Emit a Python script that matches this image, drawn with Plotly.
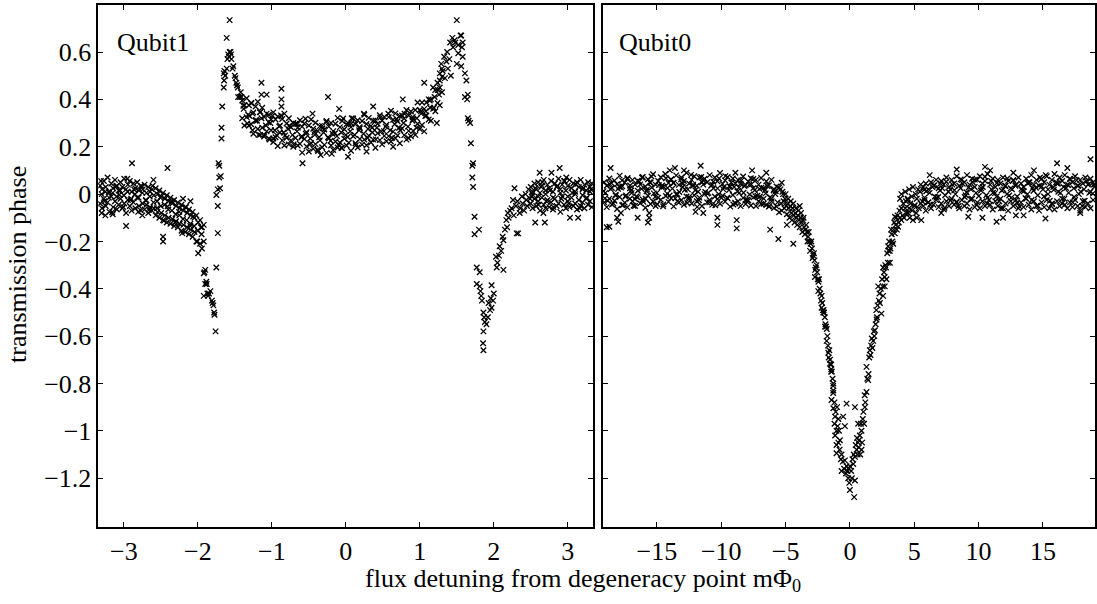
import plotly.graph_objects as go

# ---------------- Qubit1 (left panel) ----------------
q1_tailL_flux = [-3.32,-3.295,-3.27,-3.245,-3.22,-3.195,-3.17,-3.145,-3.12,-3.095,-3.07,-3.045,-3.02,-2.995,-2.97,-2.945,-2.92,-2.895,-2.87,-2.845,-2.82,-2.795,-2.77,-2.745,-2.72,-2.695,-2.67,-2.645,-2.62,-2.595,-2.57,-2.545,-2.52,-2.495,-2.47,-2.445,-2.42,-2.395,-2.37,-2.345,-2.32,-2.295,-2.27,-2.245,-2.22,-2.195,-2.17,-2.145,-2.12,-2.095,-2.07,-2.045,-2.02,-1.995,-1.97,-1.945,-1.92]
q1_tailL_upper = [.035,.02,.055,.03,.07,.01,.045,.025,.06,.035,.015,.05,.03,.065,.02,.04,.055,.01,.045,.025,.05,.015,.035,.02,.04,.005,.03,.01,.02,-.005,.025,0,.015,-.01,.005,-.02,-.005,-.03,-.015,-.04,-.025,-.05,-.035,-.06,-.045,-.07,-.055,-.08,-.065,-.09,-.075,-.1,-.09,-.12,-.11,-.14,-.13]
q1_tailL_lower = [-.04,-.06,-.02,-.05,-.035,-.075,-.01,-.055,-.03,-.065,-.045,-.02,-.06,-.04,-.08,-.025,-.05,-.07,-.035,-.06,-.015,-.05,-.07,-.04,-.065,-.045,-.08,-.055,-.07,-.06,-.09,-.075,-.1,-.08,-.11,-.09,-.12,-.1,-.125,-.105,-.135,-.115,-.14,-.125,-.155,-.13,-.16,-.14,-.17,-.15,-.18,-.16,-.2,-.25,-.21,-.23,-.2]
q1_tailL_fill_flux = [-3.31,-3.262,-3.205,-3.158,-3.104,-3.061,-3.009,-2.953,-2.911,-2.858,-2.806,-2.761,-2.703,-2.658,-2.611,-2.553,-2.508,-2.456,-2.409,-2.352,-2.307,-2.253,-2.211,-2.158,-2.102,-2.063,-2.008,-1.958]
q1_tailL_fill = [.055,-.03,.009,-.077,.032,-.003,-.054,.065,-.025,.018,-.075,.032,-.027,-.066,.035,-.06,-.015,-.112,-.052,-.03,-.12,-.075,-.165,-.055,-.135,-.095,-.2,-.14]
q1_tailL_extra = [(-3.3,0),(-3.25,.01),(-3.2,-.015),(-3.15,.005),(-3.1,-.01),(-3.05,.015),(-3.0,-.005),(-2.95,.01),(-2.9,-.02),(-2.85,0),(-2.8,-.015),(-2.75,.005),(-2.7,-.025),(-2.65,-.01),(-2.6,-.035),(-2.55,-.03),(-2.5,-.05),(-2.45,-.045),(-2.4,-.065),(-2.35,-.07),(-2.3,-.085),(-2.25,-.09),(-2.2,-.105),(-2.15,-.11),(-2.1,-.125),(-2.05,-.135),(-2.0,-.155),(-1.95,-.17),
                  (-2.89,.13),(-2.41,.11),(-2.47,-.18),(-2.47,-.2),(-2.97,-.135),(-3.3,-.08),(-3.25,-.09),(-2.2,-.02),(-2.1,-.03),(-3.15,-.085),(-2.75,-.09),(-2.6,.06)]
q1_edgeL = [(-1.92,-.335),(-1.91,-.33),(-1.90,-.32),(-1.90,-.38),(-1.88,-.38),(-1.885,-.37),(-1.92,-.43),(-1.87,-.42),(-1.85,-.42),(-1.86,-.43),(-1.83,-.41),(-1.80,-.46),(-1.81,-.45),(-1.79,-.47),(-1.775,-.51),(-1.78,-.50),(-1.76,-.58),
            (-1.75,-.31),(-1.73,-.165),(-1.73,-.05),(-1.75,-.004),(-1.73,.02),(-1.70,.025),(-1.71,.07),(-1.69,.076),(-1.72,.13),(-1.71,.12),(-1.68,.235),(-1.68,.28),(-1.67,.37),
            (-1.65,.45),(-1.645,.48),(-1.65,.51),(-1.64,.52),(-1.61,.53),(-1.63,.50),(-1.59,.59),(-1.58,.58),(-1.57,.60),(-1.56,.60),(-1.60,.57),(-1.61,.66),(-1.57,.735),
            (-1.545,.57),(-1.55,.59),(-1.52,.54),(-1.53,.53),(-1.50,.50),(-1.49,.49),(-1.48,.47),(-1.46,.45),(-1.47,.46),(-1.455,.41),(-1.43,.41),(-1.41,.41),(-1.42,.43)]
q1_plateau_flux = [-1.40,-1.37,-1.34,-1.31,-1.28,-1.25,-1.22,-1.19,-1.16,-1.13,-1.10,-1.07,-1.04,-1.01,-0.98,-0.95,-0.92,-0.89,-0.86,-0.83,-0.80,-0.77,-0.74,-0.71,-0.68,-0.65,-0.62,-0.59,-0.56,-0.53,-0.50,-0.47,-0.44,-0.41,-0.38,-0.35,-0.32,-0.29,-0.26,-0.23,-0.20,-0.17,-0.14,-0.11,-0.08,-0.05,-0.02,0.01,0.04,0.07,0.10,0.13,0.16,0.19,0.22,0.25,0.28,0.31,0.34,0.37,0.40,0.43,0.46,0.49,0.52,0.55,0.58,0.61,0.64,0.67,0.70,0.73,0.76,0.79,0.82,0.85,0.88,0.91,0.94,0.97,1.00,1.03,1.06,1.09,1.12,1.15,1.18,1.21,1.24,1.27,1.30]
q1_plateau_upper = [.395,.375,.405,.375,.385,.345,.37,.39,.345,.365,.325,.34,
                    .335,.315,.345,.315,.328,.29,.317,.34,.298,.32,.282,.30,
                    .297,.28,.312,.285,.298,.261,.29,.315,.276,.301,.267,.287,
                    .288,.273,.309,.285,.30,.266,.297,.322,.283,.309,.274,.295,
                    .297,.283,.319,.295,.312,.278,.309,.335,.296,.322,.288,.31,
                    .311,.297,.333,.31,.326,.293,.325,.352,.314,.341,.308,.33,
                    .332,.319,.355,.332,.349,.317,.355,.387,.355,.387,.36,.387,
                    .40,.40,.45,.44,.47,.45,.495]
q1_plateau_lower = [.32,.29,.325,.29,.295,.255,.31,.275,.25,.28,.25,.265,
                    .235,.27,.235,.24,.203,.26,.227,.205,.238,.21,.227,.20,
                    .237,.205,.212,.175,.233,.201,.18,.215,.191,.211,.187,.227,
                    .198,.208,.174,.235,.205,.186,.222,.197,.218,.194,.234,.205,
                    .217,.183,.244,.215,.197,.233,.209,.23,.206,.247,.218,.23,
                    .196,.257,.228,.21,.246,.223,.245,.222,.264,.236,.248,.215,
                    .277,.249,.23,.267,.244,.267,.25,.297,.275,.292,.265,.332,
                    .315,.31,.36,.35,.385,.375,.43]
q1_plateau_mid_flux = [-1.38,-1.32,-1.26,-1.20,-1.14,-1.08,-1.02,-0.96,-0.90,-0.84,-0.78,-0.72,-0.66,-0.60,-0.54,-0.48,-0.42,-0.36,-0.30,-0.24,-0.18,-0.12,-0.06,0.0,0.06,0.12,0.18,0.24,0.30,0.36,0.42,0.48,0.54,0.60,0.66,0.72,0.78,0.84,0.90,0.96,1.02,1.08,1.14,1.20,1.26]
q1_plateau_mid = [.36,.335,.34,.31,.32,.29,.30,.27,.285,.26,.275,.25,.265,.24,.255,.235,.25,.24,.26,.24,.255,.245,.26,.25,.265,.25,.27,.255,.275,.26,.28,.265,.285,.27,.295,.28,.30,.285,.31,.32,.34,.35,.365,.41,.42]
q1_plateau_fill_flux = [-1.385,-1.33,-1.275,-1.215,-1.155,-1.105,-1.045,-0.99,-0.935,-0.875,-0.82,-0.765,-0.705,-0.655,-0.595,-0.545,-0.485,-0.425,-0.375,-0.315,-0.265,-0.205,-0.145,-0.095,-0.035,0.025,0.075,0.135,0.185,0.245,0.295,0.355,0.405,0.465,0.515,0.575,0.625,0.685,0.735,0.795,0.845,0.905,0.955,1.015,1.075,1.135,1.19,1.245]
q1_plateau_fill = [.373,.298,.384,.313,.348,.243,.304,.331,.249,.332,.248,.289,.21,.296,.245,.318,.21,.261,.182,.278,.304,.225,.257,.207,.319,.241,.298,.206,.283,.34,.237,.28,.231,.323,.266,.339,.238,.317,.27,.339,.237,.326,.28,.35,.33,.395,.365,.44]
q1_plateau_extra = [(-1.14,.47),(-1.14,.42),(-1.07,.42),(-0.87,.445),(-0.87,.40),(-0.87,.37),(-1.18,.25),(-0.24,.41),(-0.45,.34),(-0.585,.13),(-1.03,.23),(-0.98,.22),
                    (-0.34,.165),(-0.19,.17),(0.03,.158),(-0.06,.196),(-0.09,.36),(0.08,.32),(-1.26,.27),(-1.30,.33),(0.28,.18),(0.64,.20),(0.37,.37),(0.77,.40),(1.06,.47),(1.23,.30)]
q1_peakR = [(1.27,.51),(1.31,.52),(1.36,.56),(1.40,.57),(1.45,.62),(1.47,.65),(1.50,.735),(1.55,.67),(1.52,.595),(1.27,.48),(1.34,.49),(1.38,.53),(1.42,.50),(1.50,.55),(1.29,.55),
            (1.30,.53),(1.33,.58),(1.37,.60),(1.41,.64),(1.44,.66),(1.48,.64),(1.52,.63)]
q1_edgeR = [(1.56,.67),(1.58,.64),(1.58,.58),(1.56,.54),(1.57,.62),(1.61,.51),(1.63,.48),(1.61,.41),(1.65,.42),(1.64,.40),(1.65,.32),(1.68,.30),(1.66,.31),(1.69,.215),
            (1.72,.13),(1.71,.12),(1.71,.07),(1.72,.03),(1.74,-.096),(1.74,-.17),(1.80,-.15),(1.77,-.31),(1.81,-.33),(1.77,-.38),(1.81,-.39),(1.83,-.43),(1.86,-.50),
            (1.88,-.54),(1.86,-.58),(1.855,-.63),(1.86,-.66),(1.84,-.45),(1.87,-.52),(1.82,-.41),
            (1.90,-.55),(1.92,-.52),(1.95,-.49),(1.97,-.48),(1.99,-.45),(1.97,-.385),(2.00,-.42),(1.93,-.46),(1.96,-.44),(2.04,-.31),(2.03,-.265),(2.07,-.26),
            (2.08,-.22),(2.13,-.32),(2.13,-.195),(2.15,-.15),(2.17,-.11),(2.19,-.08),(2.22,-.07),(2.26,-.025),(2.28,.025),(2.33,-.166),(2.31,-.166),(2.35,-.08),
            (2.39,-.04),(2.44,-.025),(2.47,.02),(2.05,-.29),(2.10,-.24),(2.12,-.18),(2.18,-.14),(2.20,-.10),(2.24,-.06),(2.27,-.09),(2.30,-.05),(2.32,-.03),
            (2.36,-.06),(2.38,-.01),(2.41,-.07),(2.43,0),(2.45,-.05),(2.49,-.02)]
q1_tailR_flux = [2.5,2.525,2.55,2.575,2.6,2.625,2.65,2.675,2.7,2.725,2.75,2.775,2.8,2.825,2.85,2.875,2.9,2.925,2.95,2.975,3.0,3.025,3.05,3.075,3.1,3.125,3.15,3.175,3.2,3.225,3.25,3.275,3.3,3.325]
q1_tailR_upper = [.03,.01,.045,.02,.05,.005,.035,.06,.015,.04,.025,.055,.01,.045,.03,.065,.02,.04,.055,.015,.035,.06,.025,.045,.01,.05,.03,.06,.02,.04,.015,.05,.03,.045]
q1_tailR_lower = [-.04,-.06,-.02,-.05,-.03,-.07,-.015,-.045,-.06,-.025,-.055,-.035,-.065,-.02,-.05,-.04,-.075,-.01,-.045,-.06,-.03,-.055,-.015,-.05,-.04,-.065,-.025,-.05,-.035,-.06,-.02,-.045,-.03,-.055]
q1_tailR_fill_flux = [2.512,2.561,2.604,2.657,2.712,2.758,2.806,2.861,2.913,2.957,3.012,3.061,3.108,3.163,3.207,3.258,3.312]
q1_tailR_fill = [-.01,.025,-.045,.05,-.03,.015,-.055,.035,-.02,.055,-.04,.005,.04,-.06,.025,-.015,.02]
q1_tailR_extra = [(2.52,0),(2.6,-.01),(2.7,0),(2.8,-.015),(2.9,.005),(3.0,-.01),(3.1,0),(3.2,-.005),(3.3,.01),
                  (2.62,.09),(2.78,.09),(2.89,.11),(2.64,.03),(2.67,-.08),(2.69,-.12),(3.03,-.10),(3.14,-.10),(2.56,-.12),(2.98,.07)]

# ---------------- Qubit0 (right panel) ----------------
q0_flatL_flux = [-19.1,-18.9,-18.7,-18.5,-18.3,-18.1,-17.9,-17.7,-17.5,-17.3,-17.1,-16.9,-16.7,-16.5,-16.3,-16.1,-15.9,-15.7,-15.5,-15.3,-15.1,-14.9,-14.7,-14.5,-14.3,-14.1,-13.9,-13.7,-13.5,-13.3,-13.1,-12.9,-12.7,-12.5,-12.3,-12.1,-11.9,-11.7,-11.5,-11.3,-11.1,-10.9,-10.7,-10.5,-10.3,-10.1,-9.9,-9.7,-9.5,-9.3,-9.1,-8.9,-8.7,-8.5,-8.3,-8.1,-7.9,-7.7,-7.5,-7.3,-7.1,-6.9,-6.7,-6.5,-6.3,-6.1,-5.9,-5.7,-5.5]
q0_flatL_upper = [.05,.035,.066,.026,.057,.042,.078,.033,.049,.064,.025,.06,.04,.056,.041,.072,.032,.063,.048,.084,.04,.055,.071,.031,.067,.047,.063,.048,.079,.039,
                  .07,.055,.09,.045,.06,.075,.035,.07,.05,.065,.05,.08,.04,.07,.054,.089,.043,.058,.072,.032,.066,.045,.06,.044,.074,.038,.053,.067,.026,.06,
                  .04,.068,.026,.054,.037,.06,.021,.032,.028]
q0_flatL_lower = [-.035,-.055,-.019,-.044,-.028,-.063,-.012,-.047,-.036,-.056,-.02,-.03,-.05,-.014,-.039,-.023,-.058,-.007,-.042,-.031,-.05,-.015,-.024,-.044,-.008,-.033,-.017,-.052,-.001,-.036,
                  -.025,-.045,-.01,-.02,-.04,-.005,-.03,-.015,-.05,0,-.035,-.025,-.045,-.01,-.021,-.041,-.007,-.032,-.018,-.053,-.004,-.04,-.03,-.051,-.016,-.042,-.027,-.048,-.014,-.05,
                  -.03,-.042,-.019,-.046,-.053,-.02,-.059,-.053,-.077]
q0_flatL_mid_flux = [-19.0,-18.6,-18.2,-17.8,-17.4,-17.0,-16.6,-16.2,-15.8,-15.4,-15.0,-14.6,-14.2,-13.8,-13.4,-13.0,-12.6,-12.2,-11.8,-11.4,-11.0,-10.6,-10.2,-9.8,-9.4,-9.0,-8.6,-8.2,-7.8,-7.4,-7.0,-6.6,-6.2,-5.8]
q0_flatL_mid = [.005,.021,-.003,.028,-.006,.015,-.01,.022,.012,.028,.005,.036,.002,.023,0,.03,.02,.035,.01,.04,.005,.025,0,.03,.017,.03,.005,.034,-.002,.016,-.01,.016,-.013,0]
q0_flatL_fillA_flux = [-19.15,-18.82,-18.55,-18.21,-17.93,-17.62,-17.28,-16.97,-16.71,-16.38,-16.05,-15.77,-15.42,-15.13,-14.84,-14.52,-14.18,-13.91,-13.57,-13.26,-12.98,-12.64,-12.35,-12.02,-11.73,-11.41,-11.08,-10.79,-10.46,-10.17,-9.85,-9.54,-9.22,-8.93,-8.61,-8.27,-7.98,-7.66,-7.34,-7.03,-6.72,-6.41,-6.08,-5.77]
q0_flatL_fillA = [.012,-.028,.047,-.006,.031,-.045,.068,.004,-.021,.052,-.033,.019,.074,-.011,.038,-.052,.026,.061,-.018,.009,.044,-.038,.081,.016,-.026,.058,.002,.035,-.047,.066,.021,-.015,.049,-.036,.028,.006,-.024,.041,-.009,.022,-.041,.034,-.03,.012]
q0_flatL_fillB_flux = [-19.05,-18.68,-18.38,-18.02,-17.71,-17.45,-17.09,-16.82,-16.49,-16.16,-15.88,-15.56,-15.24,-14.97,-14.63,-14.35,-14.01,-13.72,-13.41,-13.12,-12.83,-12.51,-12.18,-11.87,-11.56,-11.24,-10.93,-10.62,-10.29,-9.98,-9.68,-9.37,-9.06,-8.74,-8.45,-8.12,-7.82,-7.51,-7.19,-6.88,-6.55,-6.26,-5.93,-5.62]
q0_flatL_fillB = [-.018,.043,-.04,.022,.058,-.01,.036,-.049,.014,.07,-.02,.05,.003,-.043,.029,.085,-.006,.047,-.03,.062,.018,-.012,.04,-.054,.072,.009,-.035,.052,.024,-.016,.076,.033,-.044,.011,.057,-.025,.039,.064,-.007,.027,.003,-.05,.015,-.035]
q0_flatL_extra = [(-18.7,-.138),(-18.0,-.117),(-18.1,-.10),(-16.5,-.10),(-15.7,-.12),(-15.6,-.08),(-15.6,-.10),(-18.9,-.14),(-12.0,-.075),(-11.4,-.08),(-10.3,-.13),(-10.3,-.10),
                  (-8.8,-.145),(-8.8,-.11),(-18.6,.11),(-13.6,.11),(-11.6,.12),(-8.9,.09),(-7.6,.10),(-6.5,.09),(-5.3,.048),(-17.8,-.08),(-14.0,.10),(-12.9,.10)]
q0_dipL = [(-5.4,.02),(-5.3,-.07),(-5.2,0),(-5.1,-.06),(-5.0,0),(-4.9,-.085),(-4.8,-.02),(-4.7,-.1),(-4.6,-.03),(-4.5,-.11),(-4.4,-.04),(-4.3,-.12),(-4.2,-.06),(-4.1,-.13),
           (-4.0,-.07),(-3.9,-.14),(-3.8,-.08),(-3.7,-.16),(-3.6,-.10),(-3.5,-.17),(-3.4,-.13),(-3.3,-.20),(-3.2,-.16),(-3.1,-.24),(-3.0,-.20),(-2.9,-.27),(-2.8,-.25),
           (-2.7,-.32),(-2.6,-.30),(-2.5,-.36),(-2.4,-.36),(-2.3,-.42),(-2.2,-.43),(-2.1,-.49),(-2.0,-.50),(-1.9,-.55),(-1.8,-.57),(-1.7,-.64),(-1.6,-.66),(-1.5,-.72),
           (-1.4,-.75),(-1.3,-.81),
           (-5.35,-.04),(-5.15,-.03),(-4.95,-.05),(-4.75,-.06),(-4.55,-.08),(-4.35,-.09),(-4.15,-.10),(-3.95,-.11),(-3.75,-.12),(-3.55,-.14),(-3.35,-.16),(-3.15,-.20),
           (-2.95,-.23),(-2.75,-.28),(-2.55,-.33),(-2.35,-.40),(-2.15,-.46),(-1.95,-.52),(-1.75,-.60),(-1.55,-.70),(-1.45,-.74),(-1.35,-.78),
           (-5.25,.01),(-5.05,-.02),(-4.85,-.04),(-4.65,-.05),(-4.45,-.06),(-4.25,-.08),(-4.05,-.09),(-3.85,-.10),(-3.65,-.11),(-3.45,-.15),(-3.25,-.18),(-3.05,-.21),
           (-2.85,-.26),(-2.65,-.31),(-2.45,-.37),(-2.25,-.45),(-2.05,-.49),(-1.85,-.56),(-1.65,-.69),(-1.45,-.72),
           (-6.2,-.15),(-5.56,-.19),(-4.4,-.21),(-4.9,-.13),(-3.9,-.05),(-2.72,-.35),(-2.46,-.41),(-2.2,-.48),(-2.07,-.50),(-1.94,-.56),(-1.81,-.62),(-1.68,-.67),(-1.55,-.716),(-1.47,-.75)]
q0_bottom = [(-1.29,-.80),(-1.29,-.83),(-1.43,-.87),(-1.29,-.905),(-1.16,-.94),(-0.9,-.95),(-1.04,-1.0),(-0.78,-1.04),(-1.04,-1.06),(-1.04,-1.095),(-0.65,-1.1),(-0.39,-1.125),
             (-0.26,-1.15),(-0.65,-1.17),(-0.13,-1.2),(0.39,-1.21),(0.0,-1.25),(0.33,-1.28),(-0.26,-.885),(0.39,-.90),(0.64,-.97),(0.9,-1.0),(1.16,-.90),(0.64,-1.05),
             (0.52,-1.08),(0.39,-1.11),(0.26,-1.14),(0.9,-1.08),(0.77,-1.02),(-0.52,-.94),(-0.39,-.98),
             (-1.2,-.88),(-1.1,-.92),(-0.95,-.98),(-1.15,-1.02),(-0.9,-1.05),(-0.8,-1.08),(-0.7,-1.12),(-0.55,-1.13),(-0.45,-1.16),(-0.3,-1.18),(-0.2,-1.17),(-0.1,-1.16),
             (0.0,-1.15),(0.1,-1.17),(0.2,-1.12),(0.3,-1.10),(0.45,-1.06),(0.55,-1.03),(0.7,-1.07),(0.8,-1.10),(0.95,-1.05),(1.0,-.95),(1.05,-.92),(0.85,-.97),(1.1,-.97),
             (-1.0,-.90),(-0.85,-1.0),(0.15,-1.2),(-0.05,-1.22),(0.6,-1.1),(0.7,-1.04),(1.15,-.85),(1.2,-.88),(-1.3,-.84),(-1.2,-.97)]
q0_riseR = [(1.29,-.836),(1.42,-.786),(1.29,-.73),(1.55,-.66),(1.81,-.62),(1.94,-.575),(2.07,-.53),(2.45,-.505),(2.33,-.46),(2.58,-.43),(2.71,-.39),(2.84,-.36),(3.1,-.29),
            (3.1,-.24),(3.36,-.21),(3.49,-.166),(3.74,-.138),(4.0,-.11),(4.52,-.08),(5.04,-.047),(5.8,-.025),(2.2,-.39),(2.58,-.31),(2.97,-.22),(3.2,-.15),(3.5,-.096),(4.5,-.025),
            (1.35,-.78),(1.45,-.76),(1.5,-.69),(1.6,-.68),(1.65,-.64),(1.7,-.61),(1.75,-.65),(1.85,-.58),(1.9,-.60),(2.0,-.55),(2.05,-.49),(2.1,-.52),(2.15,-.47),(2.25,-.45),
            (2.3,-.42),(2.4,-.40),(2.5,-.36),(2.55,-.39),(2.65,-.33),(2.7,-.35),(2.75,-.30),(2.8,-.31),(2.9,-.25),(2.95,-.29),(3.0,-.24),(3.05,-.20),(3.15,-.23),(3.25,-.17),
            (3.3,-.20),(3.4,-.15),(3.45,-.12),(3.55,-.13),(3.6,-.10),(3.65,-.15),(3.7,-.09),(3.8,-.12),(3.85,-.07),(3.9,-.10),(4.0,-.06),(4.1,-.09),(4.15,-.04),(4.2,-.10),
            (4.3,-.06),(4.35,-.03),(4.4,-.08),(4.5,-.02),(4.6,-.06),(4.65,-.10),(4.7,-.04),(4.8,-.01),(4.85,-.07),(4.9,.03),(5.0,-.05),(5.1,0),(5.15,-.08),(5.2,-.02),
            (5.3,.02),(5.35,-.06),(5.45,.01),(5.5,-.04),(4.0,0),(4.3,.01),(4.6,.02),(4.9,-.11),(5.2,-.10),(5.5,.04),(3.9,-.02)]
q0_flatR_flux = [5.7,5.9,6.1,6.3,6.5,6.7,6.9,7.1,7.3,7.5,7.7,7.9,8.1,8.3,8.5,8.7,8.9,9.1,9.3,9.5,9.7,9.9,10.1,10.3,10.5,10.7,10.9,11.1,11.3,11.5,11.7,11.9,12.1,12.3,12.5,12.7,12.9,13.1,13.3,13.5,13.7,13.9,14.1,14.3,14.5,14.7,14.9,15.1,15.3,15.5,15.7,15.9,16.1,16.3,16.5,16.7,16.9,17.1,17.3,17.5,17.7,17.9,18.1,18.3,18.5,18.7,18.9]
q0_flatR_upper = [.03,.045,.02,.05,.035,.06,.025,.055,.04,.07,.03,.06,.045,.075,.035,.06,.05,.08,.04,.065,.03,.06,.075,.045,.055,.085,.04,.065,.03,.06,
                  .045,.07,.035,.055,.025,.06,.04,.07,.045,.03,.065,.05,.08,.04,.06,.035,.065,.05,.075,.04,.06,.085,.045,.07,.055,.08,.04,.065,.05,.075,
                  .035,.06,.045,.07,.04,.065,.05]
q0_flatR_lower = [-.05,-.07,-.035,-.06,-.045,-.025,-.055,-.04,-.065,-.03,-.05,-.02,-.045,-.035,-.06,-.025,-.05,-.04,-.065,-.02,-.055,-.035,-.06,-.03,-.05,-.015,-.045,-.065,-.03,-.05,
                  -.02,-.06,-.04,-.07,-.03,-.05,-.025,-.06,-.035,-.055,-.02,-.045,-.065,-.03,-.05,-.07,-.035,-.055,-.025,-.06,-.04,-.065,-.03,-.05,-.02,-.045,-.06,-.035,-.055,-.025,
                  -.05,-.07,-.03,-.055,-.04,-.06,-.025]
q0_flatR_mid_flux = [5.8,6.2,6.6,7.0,7.4,7.8,8.2,8.6,9.0,9.4,9.8,10.2,10.6,11.0,11.4,11.8,12.2,12.6,13.0,13.4,13.8,14.2,14.6,15.0,15.4,15.8,16.2,16.6,17.0,17.4,17.8,18.2,18.6,19.0]
q0_flatR_mid = [-.015,.005,-.01,.015,-.005,.02,0,.025,-.005,.02,.005,.025,-.005,.02,-.01,.015,0,.02,-.01,.015,0,.025,-.005,.02,0,.03,.01,.03,.005,.025,0,.02,.005,.03]
q0_flatR_fillA_flux = [5.62,5.93,6.24,6.57,6.86,7.18,7.49,7.83,8.12,8.44,8.77,9.06,9.38,9.71,10.02,10.33,10.66,10.97,11.28,11.61,11.92,12.24,12.55,12.87,13.18,13.51,13.82,14.13,14.46,14.77,15.09,15.4,15.72,16.03,16.36,16.67,16.98,17.31,17.62,17.94,18.25,18.57,18.88]
q0_flatR_fillA = [-.03,.012,-.045,.038,-.012,.025,.052,-.027,.016,-.05,.044,.008,-.022,.061,-.008,.03,-.04,.055,.004,-.03,.02,.066,-.015,.035,-.052,.012,.046,-.025,.027,.07,-.01,.02,-.043,.05,.005,-.02,.038,-.035,.058,.01,-.028,.042,.002]
q0_flatR_fillB_flux = [5.78,6.09,6.41,6.72,7.04,7.35,7.66,7.97,8.29,8.6,8.92,9.23,9.55,9.86,10.18,10.49,10.81,11.12,11.44,11.75,12.06,12.38,12.7,13.01,13.33,13.64,13.96,14.27,14.59,14.9,15.22,15.54,15.85,16.17,16.48,16.8,17.12,17.43,17.75,18.06,18.38,18.7,18.98]
q0_flatR_fillB = [.018,-.035,.03,-.015,.045,-.058,.01,.04,-.032,.062,-.012,.028,.05,-.045,.015,.073,-.025,.006,.048,-.06,.034,-.006,.057,-.038,.022,-.017,.05,.014,-.048,.032,.08,-.028,.018,.045,-.04,.026,.063,-.012,.035,-.05,.055,.01,.04]
q0_flatR_extra = [(8.3,.104),(10.5,.115),(10.9,.10),(12.7,.09),(14.3,.10),(16.1,.13),(16.9,.11),(18.7,.147),(9.2,-.096),(10.3,-.10),(11.4,-.117),(11.9,-.10),(12.9,-.09),
                  (15.2,-.103),(17.9,-.08),(7.1,-.08),(5.55,-.11),(13.5,-.09),(6.2,.08)]

# ---------------- axis ticks ----------------
q1_xticks = [-3, -2, -1, 0, 1, 2, 3]
q0_xticks = [-15, -10, -5, 0, 5, 10, 15]
x1_ticktext = ["\u22123", "\u22122", "\u22121", "0", "1", "2", "3"]
x2_ticktext = ["\u221215", "\u221210", "\u22125", "0", "5", "10", "15"]
y_tickvals = [0.6, 0.4, 0.2, 0, -0.2, -0.4, -0.6, -0.8, -1, -1.2]
y_ticktext = ["0.6", "0.4", "0.2", "0", "\u22120.2", "\u22120.4", "\u22120.6", "\u22120.8", "\u22121", "\u22121.2"]


def collect(pairs_lists, banded):
    xs, ys = [], []
    for flux, *phases in banded:
        for ph in phases:
            xs.extend(flux)
            ys.extend(ph)
    for pl in pairs_lists:
        for a, b in pl:
            xs.append(a)
            ys.append(b)
    return xs, ys


q1_x, q1_y = collect(
    [q1_tailL_extra, q1_edgeL, q1_plateau_extra, q1_peakR, q1_edgeR, q1_tailR_extra],
    [(q1_tailL_flux, q1_tailL_upper, q1_tailL_lower),
     (q1_tailL_fill_flux, q1_tailL_fill),
     (q1_plateau_flux, q1_plateau_upper, q1_plateau_lower),
     (q1_plateau_mid_flux, q1_plateau_mid),
     (q1_plateau_fill_flux, q1_plateau_fill),
     (q1_tailR_flux, q1_tailR_upper, q1_tailR_lower),
     (q1_tailR_fill_flux, q1_tailR_fill)])
q0_x, q0_y = collect(
    [q0_flatL_extra, q0_dipL, q0_bottom, q0_riseR, q0_flatR_extra],
    [(q0_flatL_flux, q0_flatL_upper, q0_flatL_lower),
     (q0_flatL_mid_flux, q0_flatL_mid),
     (q0_flatL_fillA_flux, q0_flatL_fillA),
     (q0_flatL_fillB_flux, q0_flatL_fillB),
     (q0_flatR_flux, q0_flatR_upper, q0_flatR_lower),
     (q0_flatR_mid_flux, q0_flatR_mid),
     (q0_flatR_fillA_flux, q0_flatR_fillA),
     (q0_flatR_fillB_flux, q0_flatR_fillB)])

FONT = "Liberation Serif, Times New Roman, serif"
FS = 26
marker = dict(symbol="x-thin", size=5.5, color="black", line=dict(width=1.3, color="black"))

fig = go.Figure()
fig.add_trace(go.Scatter(x=q1_x, y=q1_y, mode="markers", marker=marker, xaxis="x", yaxis="y",
                         showlegend=False, hoverinfo="skip"))
fig.add_trace(go.Scatter(x=q0_x, y=q0_y, mode="markers", marker=marker, xaxis="x2", yaxis="y2",
                         showlegend=False, hoverinfo="skip"))

W, H = 1097, 604
axis_common = dict(showgrid=False, zeroline=False, showline=True, linecolor="black", linewidth=1.6,
                   mirror="ticks", ticks="inside", ticklen=5, tickwidth=1, tickcolor="black",
                   tickfont=dict(family=FONT, size=FS, color="black"))
yrange = [-1.405, 0.80]
ydom = [1 - 526.7 / H, 1 - 4.7 / H]
fig.update_layout(
    width=W, height=H,
    margin=dict(l=0, r=0, t=0, b=0),
    paper_bgcolor="white", plot_bgcolor="white",
    xaxis=dict(domain=[98.5 / W, 594 / W], range=[-3.345, 3.34], tickvals=q1_xticks, ticktext=x1_ticktext,
               anchor="y", **axis_common),
    yaxis=dict(domain=ydom, range=yrange, tickvals=y_tickvals, ticktext=y_ticktext,
               anchor="x", **axis_common),
    xaxis2=dict(domain=[604 / W, 1.0], range=[-19.2, 19.05], tickvals=q0_xticks, ticktext=x2_ticktext,
                anchor="y2", **axis_common),
    yaxis2=dict(domain=ydom, range=yrange, tickvals=y_tickvals, showticklabels=False,
                anchor="x2", **axis_common),
    annotations=[
        dict(text="Qubit1", x=115 / W, y=1 - 42 / H, xref="paper", yref="paper", xanchor="left", yanchor="middle",
             showarrow=False, font=dict(family=FONT, size=FS, color="black")),
        dict(text="Qubit0", x=618 / W, y=1 - 42 / H, xref="paper", yref="paper", xanchor="left", yanchor="middle",
             showarrow=False, font=dict(family=FONT, size=FS, color="black")),
        dict(text="transmission phase", x=17 / W, y=1 - 264 / H, xref="paper", yref="paper", textangle=-90,
             xanchor="center", yanchor="middle", showarrow=False, font=dict(family=FONT, size=FS, color="black")),
        dict(text="flux detuning from degeneracy point m\u03a6<sub>0</sub>", x=584 / W, y=1 - 580 / H,
             xref="paper", yref="paper", xanchor="center", yanchor="middle", showarrow=False,
             font=dict(family=FONT, size=FS, color="black")),
    ],
)

fig.write_html("out.html", config={"displayModeBar": False},
               post_script="document.body.style.margin='0px';document.body.style.overflow='hidden';")
